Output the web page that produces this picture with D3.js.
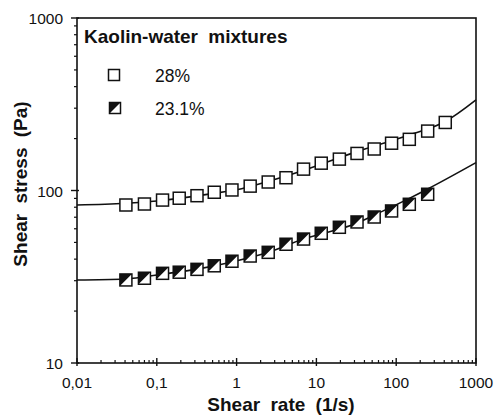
<!DOCTYPE html>
<html><head><meta charset="utf-8">
<script src="https://cdn.jsdelivr.net/npm/d3@7/dist/d3.min.js"></script>
<style>body{margin:0;background:#fff}svg{display:block}text{font-family:"Liberation Sans",Arial,sans-serif;fill:#111}</style>
</head><body><svg id="c" width="496" height="419"></svg>
<script>
// Shear rate (1/s) of measured points
const rates28 = [0.041,0.070,0.118,0.191,0.319,0.525,0.875,1.48,2.49,4.16,6.9,11.5,19.4,32.3,53,87.5,146,248,412];
const stress28 = [82.4,83.5,88,90.2,93.3,97.7,100.7,106,112,118.6,133,144,152,164,174,188,198,221,248];
const rates23 = [0.041,0.070,0.118,0.191,0.319,0.525,0.875,1.48,2.49,4.16,6.9,11.5,19.4,32.3,53,87.5,146,248];
const stress23 = [30.3,31.0,33.1,33.6,34.9,36.6,38.9,41.7,43.8,48.8,52.3,56.5,61.2,65.7,70.2,76.1,83.2,95.1];
// Fitted model curves
const fitX28 = [0.01,0.04,0.1,0.5,1,2.5,7,32,100,146,412,1000];
const fitY28 = [82.4,84.4,87,96,101,113,131,168,198,210,251,335];
const fitX23 = [0.01,0.04,0.12,0.32,0.875,2.5,6.9,11.5,32,53,146,248,1000];
const fitY23 = [30.3,30.7,32.8,35,38.5,43.8,52.3,56,64.6,72,90,102,145];
const xTickVals = [0.01,0.1,1,10,100,1000];
const xTickLabels = ["0,01","0,1","1","10","100","1000"];
const yTickVals = [10,100,1000];
const yTickLabels = ["10","100","1000"];
const legendTitle = "Kaolin-water mixtures";
const seriesNames = ["28%","23.1%"];

const svg = d3.select("#c");
const L=77, R=476, T=18, B=363;
const x = d3.scaleLog().domain([0.01,1000]).range([L,R]);
const y = d3.scaleLog().domain([10,1000]).range([B,T]);

// frame
svg.append("rect").attr("x",L).attr("y",T).attr("width",R-L).attr("height",B-T)
  .attr("fill","none").attr("stroke","#111").attr("stroke-width",1.6);

// minor ticks
const minorX=[], minorY=[];
for(let d=0.01; d<1000; d*=10) for(let k=2;k<=9;k++) minorX.push(d*k);
for(let d=10; d<1000; d*=10) for(let k=2;k<=9;k++) minorY.push(d*k);
const g = svg.append("g").attr("stroke","#111");
minorX.forEach(v=>g.append("line").attr("x1",x(v)).attr("x2",x(v)).attr("y1",B).attr("y2",B-3).attr("stroke-width",1.2));
xTickVals.forEach(v=>g.append("line").attr("x1",x(v)).attr("x2",x(v)).attr("y1",B+3).attr("y2",B-5).attr("stroke-width",1.4));
minorY.forEach(v=>g.append("line").attr("x1",L).attr("x2",L-3).attr("y1",y(v)).attr("y2",y(v)).attr("stroke-width",1.2));
yTickVals.forEach(v=>g.append("line").attr("x1",L+2).attr("x2",L-6).attr("y1",y(v)).attr("y2",y(v)).attr("stroke-width",1.4));

// tick labels
xTickVals.forEach((v,i)=>svg.append("text").attr("x",x(v)).attr("y",388).attr("text-anchor","middle")
  .attr("font-size",15.5).text(xTickLabels[i]));
yTickVals.forEach((v,i)=>svg.append("text").attr("x",63).attr("y",y(v)+6).attr("text-anchor","end")
  .attr("font-size",15.5).text(yTickLabels[i]));

// axis titles
svg.append("text").attr("x",281).attr("y",411).attr("text-anchor","middle").attr("font-size",19)
  .attr("font-weight","bold").attr("word-spacing",5).text("Shear rate (1/s)");
svg.append("text").attr("transform","translate(27,184) rotate(-90)").attr("text-anchor","middle")
  .attr("font-size",19).attr("font-weight","bold").attr("word-spacing",5).text("Shear stress (Pa)");

// fitted lines
const line = d3.line().x(d=>x(d[0])).y(d=>y(d[1])).curve(d3.curveMonotoneX);
svg.append("path").attr("d",line(fitX28.map((v,i)=>[v,fitY28[i]]))).attr("fill","none").attr("stroke","#111").attr("stroke-width",1.6);
svg.append("path").attr("d",line(fitX23.map((v,i)=>[v,fitY23[i]]))).attr("fill","none").attr("stroke","#111").attr("stroke-width",1.6);

function openSq(sel,cx,cy,s){
  sel.append("rect").attr("x",cx-s/2).attr("y",cy-s/2).attr("width",s).attr("height",s)
    .attr("fill","#fff").attr("stroke","#111").attr("stroke-width",1.5);
}
function halfSq(sel,cx,cy,s){
  sel.append("rect").attr("x",cx-s/2).attr("y",cy-s/2).attr("width",s).attr("height",s)
    .attr("fill","#fff").attr("stroke","#111").attr("stroke-width",1.5);
  const h=s/2;
  sel.append("path").attr("d",`M${cx-h},${cy-h}L${cx+h},${cy-h}L${cx-h},${cy+h}Z`).attr("fill","#111");
}
const pts = svg.append("g");
rates28.forEach((v,i)=>openSq(pts,x(v),y(stress28[i]),12));
rates23.forEach((v,i)=>halfSq(pts,x(v),y(stress23[i]),12));

// legend
svg.append("text").attr("x",84).attr("y",43).attr("font-size",19).attr("font-weight","bold")
  .attr("word-spacing",5).text(legendTitle);
openSq(svg,114,75,11);
halfSq(svg,115,108,11);
svg.append("text").attr("x",155).attr("y",81.5).attr("font-size",17.5).text(seriesNames[0]);
svg.append("text").attr("x",155).attr("y",115).attr("font-size",17.5).text(seriesNames[1]);
</script></body></html>
